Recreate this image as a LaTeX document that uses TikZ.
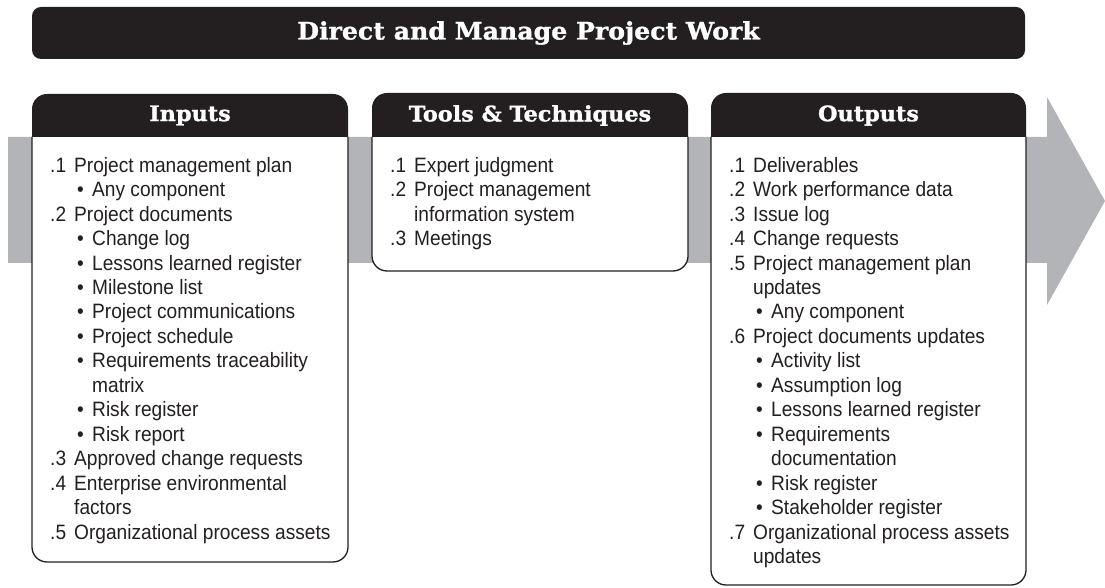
\documentclass[tikz,border=0pt]{standalone}
\usepackage{fontspec}
\setmainfont{Liberation Sans}[FakeStretch=0.92]
\newfontfamily\headfont{DejaVu Serif}[FakeStretch=1.05, BoldFeatures={FakeBold=1.2}]
\definecolor{boxblack}{HTML}{231F20}
\definecolor{flowgray}{HTML}{B2B4B7}
% list lines: number, wrapped line, bullet, wrapped bullet
\newcommand{\numline}[2]{\makebox[24pt][l]{#1}#2}
\newcommand{\numcont}[1]{\hspace*{24pt}#1}
\newcommand{\bulline}[1]{\hspace*{27pt}\makebox[15pt][l]{\textbullet}#1}
\newcommand{\bulcont}[1]{\hspace*{42pt}#1}
\tikzset{
  boxline/.style={draw=boxblack, line width=1.3pt, fill=white},
  headtext/.style={text=white, font=\headfont\bfseries\fontsize{21.3pt}{25pt}\selectfont},
  listtext/.style={anchor=north west, inner sep=0pt, align=left, text=boxblack,
    font=\fontsize{20.8pt}{24.45pt}\selectfont}
}
\begin{document}
\begin{tikzpicture}[x=1pt,y=1pt]
  \useasboundingbox (0,0) rectangle (1105,587);
  % flow arrow behind the boxes
  \fill[flowgray] (8,324) -- (8,450) -- (1047,450) -- (1047,490) -- (1105,386) -- (1047,282) -- (1047,324) -- cycle;
  % title bar
  \fill[boxblack, rounded corners=9pt] (32,528) rectangle (1025,580);
  \node[headtext, font=\headfont\bfseries\fontsize{24pt}{28pt}\selectfont] (title) at (528.5,554) {Direct and Manage Project Work};
  % inputs
  \draw[boxline, rounded corners=15pt] (32,450) -- (32,25) -- (348,25) -- (348,450);
  \fill[boxblack] (32,450) [rounded corners=15pt] -- (32,493) -- (348,493) [sharp corners] -- (348,450) -- cycle;
  \node[headtext] (inputs) at (190,471.5) {Inputs};
  \node[listtext] (inlist) at (50,430) {%
    \numline{.1}{Project management plan}\\
    \bulline{Any component}\\
    \numline{.2}{Project documents}\\
    \bulline{Change log}\\
    \bulline{Lessons learned register}\\
    \bulline{Milestone list}\\
    \bulline{Project communications}\\
    \bulline{Project schedule}\\
    \bulline{Requirements traceability}\\
    \bulcont{matrix}\\
    \bulline{Risk register}\\
    \bulline{Risk report}\\
    \numline{.3}{Approved change requests}\\
    \numline{.4}{Enterprise environmental}\\
    \numcont{factors}\\
    \numline{.5}{Organizational process assets}};
  % tools and techniques
  \draw[boxline, rounded corners=15pt] (372,450) -- (372,316) -- (688,316) -- (688,450);
  \fill[boxblack] (372,450) [rounded corners=15pt] -- (372,494) -- (688,494) [sharp corners] -- (688,450) -- cycle;
  \node[headtext] (tools) at (530,471.5) {Tools \& Techniques};
  \node[listtext] (toollist) at (390,430) {%
    \numline{.1}{Expert judgment}\\
    \numline{.2}{Project management}\\
    \numcont{information system}\\
    \numline{.3}{Meetings}};
  % outputs
  \draw[boxline, rounded corners=15pt] (711,450) -- (711,2) -- (1026,2) -- (1026,450);
  \fill[boxblack] (711,450) [rounded corners=15pt] -- (711,494) -- (1026,494) [sharp corners] -- (1026,450) -- cycle;
  \node[headtext] (outputs) at (868.5,471.5) {Outputs};
  \node[listtext] (outlist) at (729,430) {%
    \numline{.1}{Deliverables}\\
    \numline{.2}{Work performance data}\\
    \numline{.3}{Issue log}\\
    \numline{.4}{Change requests}\\
    \numline{.5}{Project management plan}\\
    \numcont{updates}\\
    \bulline{Any component}\\
    \numline{.6}{Project documents updates}\\
    \bulline{Activity list}\\
    \bulline{Assumption log}\\
    \bulline{Lessons learned register}\\
    \bulline{Requirements}\\
    \bulcont{documentation}\\
    \bulline{Risk register}\\
    \bulline{Stakeholder register}\\
    \numline{.7}{Organizational process assets}\\
    \numcont{updates}};
\end{tikzpicture}
\end{document}
